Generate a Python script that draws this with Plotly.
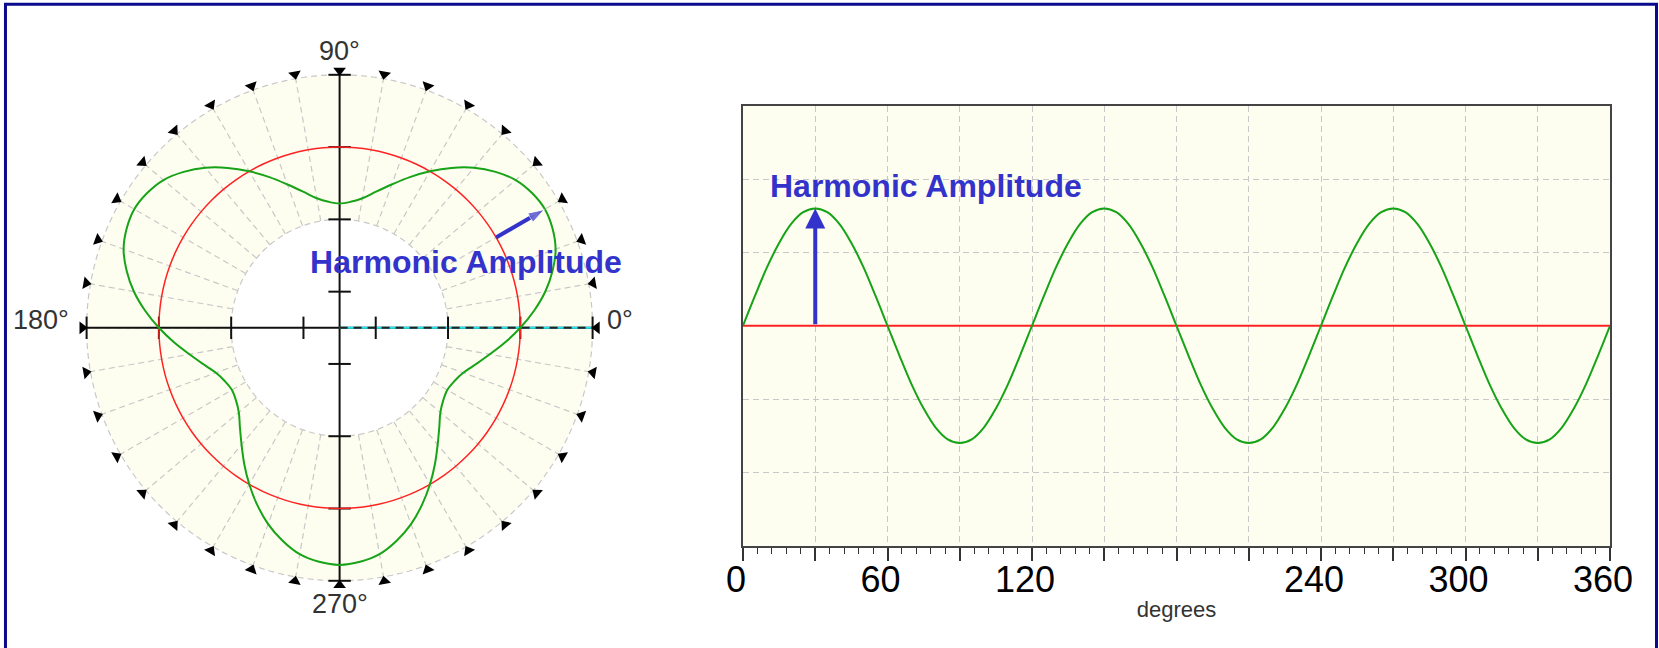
import plotly.graph_objects as go

# ---------------- data ----------------
angles_deg = list(range(0, 361, 5))

# polar chart (radial units: tick spacing = 1, fundamental circle at 2.5)
fund_r = [2.5] * len(angles_deg)
harm_r = [2.50, 2.70, 2.89, 3.05, 3.18, 3.25, 3.28, 3.25, 3.18, 3.05, 2.89, 2.70,
          2.50, 2.30, 2.11, 1.95, 1.82, 1.75, 1.72, 1.75, 1.82, 1.95, 2.11, 2.30,
          2.50, 2.70, 2.89, 3.05, 3.18, 3.25, 3.28, 3.25, 3.18, 3.05, 2.89, 2.70,
          2.50, 2.30, 2.11, 1.95, 1.82, 1.75, 1.72, 1.75, 1.82, 1.95, 2.11, 2.30,
          2.50, 2.70, 2.89, 3.05, 3.18, 3.25, 3.28, 3.25, 3.18, 3.05, 2.89, 2.70,
          2.50, 2.30, 2.11, 1.95, 1.82, 1.75, 1.72, 1.75, 1.82, 1.95, 2.11, 2.30,
          2.50]

# linear chart
harm_y = [0.00, 0.41, 0.80, 1.13, 1.39, 1.55, 1.60, 1.55, 1.39, 1.13, 0.80, 0.41,
          0.00, -0.41, -0.80, -1.13, -1.39, -1.55, -1.60, -1.55, -1.39, -1.13, -0.80, -0.41,
          0.00, 0.41, 0.80, 1.13, 1.39, 1.55, 1.60, 1.55, 1.39, 1.13, 0.80, 0.41,
          0.00, -0.41, -0.80, -1.13, -1.39, -1.55, -1.60, -1.55, -1.39, -1.13, -0.80, -0.41,
          0.00, 0.41, 0.80, 1.13, 1.39, 1.55, 1.60, 1.55, 1.39, 1.13, 0.80, 0.41,
          0.00, -0.41, -0.80, -1.13, -1.39, -1.55, -1.60, -1.55, -1.39, -1.13, -0.80, -0.41,
          0.00]
fund_x = [0, 360]
fund_y = [0, 0]

x_tickvals = list(range(0, 361, 30))
x_ticktext = ["0", "", "60", "", "120", "", "", "", "240", "", "300", "", "360"]

polar_grid_angles = list(range(0, 360, 10))
polar_labels = ["0°", "90°", "180°", "270°"]
radial_ticks = [0.5, 1.5, 2.5, 3.5]
peak_angle = 30
inner_r = 1.5
outer_r = 3.5
marker_r = 3.56
range_max = 3.57

# ---------------- style ----------------
CREAM = "#fefef0"
GRID = "#c8c8c8"
GREEN = "#17a317"
RED = "#ff2222"
BLUE = "#3333cc"
TXT = "#333333"
FONT = "Liberation Sans, Arial, sans-serif"
W, H = 1659, 648

# polar placement (pixels)
PCX, PCY = 339.6, 327.8
PR = 253.0 / outer_r * range_max

fig = go.Figure()

circ_theta = list(range(0, 361, 2))

def ptrace(**kw):
    kw.setdefault("hoverinfo", "skip")
    kw.setdefault("showlegend", False)
    fig.add_trace(go.Scatterpolar(**kw))

# cream annulus background (outer disc) with dashed edge
ptrace(r=[outer_r] * len(circ_theta), theta=circ_theta, mode="lines", fill="toself",
       fillcolor=CREAM, line=dict(color=GRID, width=1.2, dash="6px,4px"))
# spokes every 10 degrees between inner and outer circles
sp_r, sp_t = [], []
for a in polar_grid_angles:
    sp_r += [inner_r, outer_r, None]
    sp_t += [a, a, None]
ptrace(r=sp_r, theta=sp_t, mode="lines", line=dict(color=GRID, width=1.2, dash="6px,4px"),
       connectgaps=False)
# inner white disc with dashed edge
ptrace(r=[inner_r] * len(circ_theta), theta=circ_theta, mode="lines", fill="toself",
       fillcolor="white", line=dict(color=GRID, width=1.2, dash="6px,4px"))

# cross axes (solid black)
ptrace(r=[outer_r, 0, outer_r], theta=[180, 0, 0], mode="lines", line=dict(color="#111", width=2))
ptrace(r=[outer_r, 0, outer_r], theta=[90, 0, 270], mode="lines", line=dict(color="#111", width=2))
# cyan / dashed 0 deg ray
ptrace(r=[0, outer_r], theta=[0, 0], mode="lines", line=dict(color="#22e8f2", width=2))
ptrace(r=[0, outer_r], theta=[0, 0], mode="lines", line=dict(color="#222", width=2, dash="8px,6px"))
# axis tick marks
ptrace(r=radial_ticks * 2, theta=[0] * 4 + [180] * 4, mode="markers",
       marker=dict(symbol="line-ns", size=16, line=dict(color="#111", width=2)), cliponaxis=False)
ptrace(r=radial_ticks * 2, theta=[90] * 4 + [270] * 4, mode="markers",
       marker=dict(symbol="line-ew", size=16, line=dict(color="#111", width=2)), cliponaxis=False)

# fundamental and harmonic
ptrace(r=fund_r, theta=angles_deg, mode="lines", line=dict(color=RED, width=1.5, shape="spline"))
ptrace(r=harm_r, theta=angles_deg, mode="lines", line=dict(color=GREEN, width=2, shape="spline"))

# ring of triangles (pointing inward)
ptrace(r=[marker_r] * len(polar_grid_angles), theta=polar_grid_angles, mode="markers",
       marker=dict(symbol="triangle-up", size=11, color="black",
                   angle=[-90 - a for a in polar_grid_angles]),
       cliponaxis=False)

# harmonic amplitude arrow (polar)
ptrace(r=[2.5, 3.27], theta=[peak_angle, peak_angle], mode="lines+markers",
       line=dict(color=BLUE, width=4),
       marker=dict(symbol="arrow", size=[0, 17], color=BLUE, angleref="previous"),
       cliponaxis=False)
ptrace(r=[1.952], theta=[26.4], mode="text", text=["<b>Harmonic Amplitude</b>"],
       textfont=dict(family=FONT, size=32, color=BLUE), textposition="middle center",
       cliponaxis=False)

# angle labels around the polar plot
lab_pos = {  # (x px, y px, xanchor)
    "0°": (PCX + 266, PCY - 8, "left"),
    "90°": (PCX, PCY - 277, "center"),
    "180°": (PCX - 270, PCY - 8, "right"),
    "270°": (PCX, PCY + 276, "center"),
}
for lab in polar_labels:
    lx, ly, xa = lab_pos[lab]
    fig.add_annotation(x=lx / W, y=1 - ly / H, xref="paper", yref="paper", text=lab,
                       showarrow=False, xanchor=xa, yanchor="middle", borderpad=0,
                       font=dict(family=FONT, size=27, color=TXT))

# ---------------- linear chart ----------------
fig.add_trace(go.Scatter(x=fund_x, y=fund_y, mode="lines", line=dict(color=RED, width=2),
                         hoverinfo="skip", showlegend=False, xaxis="x", yaxis="y"))
fig.add_trace(go.Scatter(x=angles_deg, y=harm_y, mode="lines",
                         line=dict(color=GREEN, width=2, shape="spline"),
                         hoverinfo="skip", showlegend=False, xaxis="x", yaxis="y"))

fig.add_annotation(x=peak_angle, y=max(harm_y), ax=peak_angle, ay=0, xref="x", yref="y",
                   axref="x", ayref="y", showarrow=True, arrowhead=2, arrowsize=1,
                   arrowwidth=4, arrowcolor=BLUE, text="")
fig.add_annotation(x=10.2, y=1.91, xref="x", yref="y", xanchor="left", yanchor="middle",
                   text="<b>Harmonic Amplitude</b>", showarrow=False,
                   font=dict(family=FONT, size=32, color=BLUE))

fig.update_layout(
    width=W, height=H, autosize=False,
    margin=dict(l=0, r=0, t=0, b=0, autoexpand=False),
    paper_bgcolor="white",
    plot_bgcolor=CREAM,
    showlegend=False,
    polar=dict(
        domain=dict(x=[(PCX - PR) / W, (PCX + PR) / W],
                    y=[(H - PCY - PR) / H, (H - PCY + PR) / H]),
        bgcolor="white",
        radialaxis=dict(range=[0, range_max], visible=False, showgrid=False),
        angularaxis=dict(direction="counterclockwise", rotation=0, showticklabels=False,
                         showgrid=False, showline=False, ticks=""),
    ),
    xaxis=dict(
        domain=[743 / W, 1610 / W], range=[0, 360], anchor="y", automargin=False,
        tickmode="array", tickvals=x_tickvals, ticktext=x_ticktext,
        ticks="outside", ticklen=13, tickwidth=1.5, tickcolor="#333",
        minor=dict(dtick=6, tick0=0, ticklen=6, tickwidth=1.2, tickcolor="#333", showgrid=False),
        showgrid=True, gridcolor=GRID, griddash="6px,4px", gridwidth=1.2,
        showline=True, linecolor="#444", linewidth=2, mirror=True, zeroline=False,
        tickfont=dict(family=FONT, size=36, color="black"),
        title=dict(text="degrees", font=dict(family=FONT, size=22, color=TXT), standoff=3),
        ticklabelshift=-7, ticklabelstandoff=-12,
    ),
    yaxis=dict(
        domain=[(H - 545.5) / H, (H - 106) / H], range=[-3, 3], anchor="x", automargin=False,
        dtick=1, showticklabels=False, ticks="",
        showgrid=True, gridcolor=GRID, griddash="6px,4px", gridwidth=1.2,
        showline=True, linecolor="#444", linewidth=2, mirror=True, zeroline=False,
    ),
    shapes=[dict(type="rect", xref="paper", yref="paper", x0=0.0033, y0=-0.02, x1=0.9985, y1=0.9935,
                 line=dict(color="#0a0a8c", width=3), fillcolor="rgba(0,0,0,0)")],
)

css = "margin:0;padding:0;overflow:hidden;width:1659px;height:648px;"
fig.write_html(
    "out.html",
    config={"displayModeBar": False, "responsive": False},
    post_script=("document.documentElement.style.cssText='%s';"
                 "document.body.style.cssText='%s';" % (css, css)),
)
